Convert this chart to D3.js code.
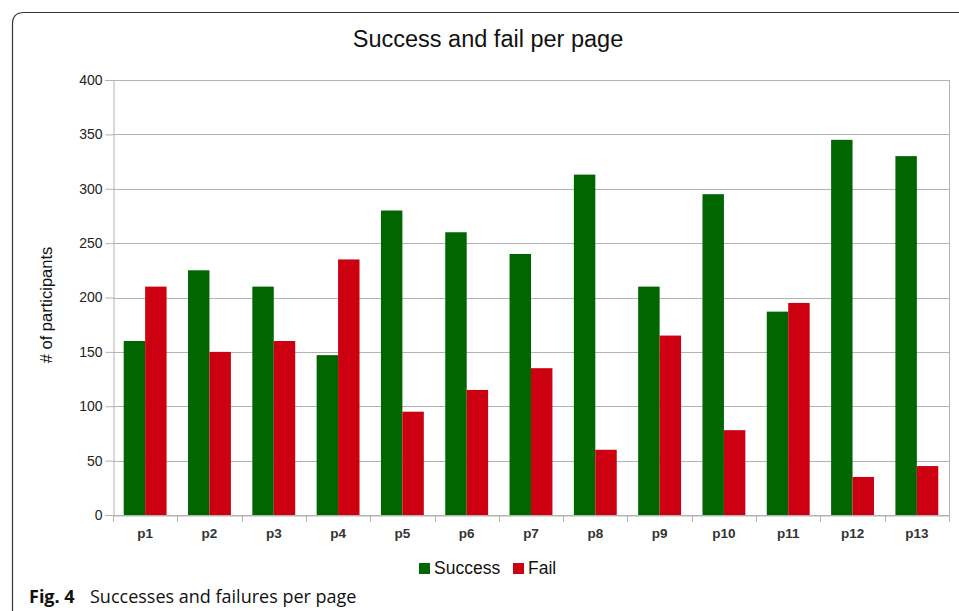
<!DOCTYPE html>
<html>
<head>
<meta charset="utf-8">
<script src="https://cdn.jsdelivr.net/npm/d3@7"></script>
<style>
  html, body { margin: 0; padding: 0; background: #fff; }
  svg { display: block; }
</style>
</head>
<body>
<svg id="chart" width="959" height="611"></svg>
<script>
const categories = ["p1","p2","p3","p4","p5","p6","p7","p8","p9","p10","p11","p12","p13"];
const successValues = [160, 225, 210, 147, 280, 260, 240, 313, 210, 295, 187, 345, 330];
const failValues = [210, 150, 160, 235, 95, 115, 135, 60, 165, 78, 195, 35, 45];
const seriesNames = ["Success", "Fail"];
const yTicks = [0, 50, 100, 150, 200, 250, 300, 350, 400];
const colors = ["#006600", "#cc0011"];

const svg = d3.select("#chart");
const m = {left: 113, right: 949, top: 80, bottom: 515};
const sans = "Liberation Sans, Arial, sans-serif";

// card border
svg.append("path")
  .attr("d", "M12.5,611 L12.5,24 Q12.5,12.5 24,12.5 L959,12.5")
  .attr("fill", "none").attr("stroke", "#333").attr("stroke-width", 1.2);

svg.append("text").attr("x", 488).attr("y", 47).attr("text-anchor", "middle")
  .attr("font-family", sans).attr("font-size", 23.5)
  .attr("fill", "#111").text("Success and fail per page");

const x = d3.scaleBand().domain(categories).range([m.left, m.right]).paddingInner(0).paddingOuter(0);
const x1 = d3.scaleBand().domain(seriesNames).range([0, x.bandwidth()]).paddingInner(0).paddingOuter(0.5);
const y = d3.scaleLinear().domain([0, 400]).range([m.bottom, m.top]);

// gridlines
svg.append("g").selectAll("line").data(yTicks).join("line")
  .attr("x1", m.left).attr("x2", m.right)
  .attr("y1", d => Math.round(y(d)) + 0.5).attr("y2", d => Math.round(y(d)) + 0.5)
  .attr("stroke", "#b3b3b3").attr("stroke-width", 1);
svg.append("line").attr("x1", m.right + 0.5).attr("x2", m.right + 0.5)
  .attr("y1", m.top).attr("y2", m.bottom).attr("stroke", "#b3b3b3");

// bars
const data = categories.map((c, i) => ({c, vals: [successValues[i], failValues[i]]}));
const groups = svg.append("g").selectAll("g").data(data).join("g")
  .attr("transform", d => `translate(${x(d.c)},0)`);
groups.selectAll("rect").data(d => d.vals.map((v, j) => ({v, s: seriesNames[j], j})))
  .join("rect")
  .attr("x", d => x1(d.s)).attr("width", x1.bandwidth())
  .attr("y", d => y(d.v)).attr("height", d => y(0) - y(d.v))
  .attr("fill", d => colors[d.j]);

// y axis
const yAxis = d3.axisLeft(y).tickValues(yTicks).tickSize(8).tickPadding(3);
const gy = svg.append("g").attr("transform", `translate(${m.left + 0.5},0)`).call(yAxis);
gy.select(".domain").attr("stroke", "#b3b3b3");
gy.selectAll(".tick line").attr("stroke", "#b3b3b3");
gy.selectAll(".tick text").attr("font-family", sans)
  .attr("font-size", 14).attr("fill", "#222");

// x axis
const gx = svg.append("g").attr("transform", `translate(0,${m.bottom + 0.5})`)
  .call(d3.axisBottom(x).tickSize(0).tickPadding(13));
gx.select(".domain").attr("stroke", "#b3b3b3");
gx.selectAll(".tick text").attr("font-family", sans)
  .attr("font-size", 13.5).attr("font-weight", "bold").attr("fill", "#333");
const bounds = categories.map(c => x(c)).concat([m.right]);
svg.append("g").selectAll("line").data(bounds).join("line")
  .attr("x1", d => Math.round(d) + 0.5).attr("x2", d => Math.round(d) + 0.5)
  .attr("y1", m.bottom).attr("y2", m.bottom + 7).attr("stroke", "#b3b3b3");

// y title
svg.append("text").attr("transform", "translate(52,305) rotate(-90)")
  .attr("text-anchor", "middle").attr("font-family", sans)
  .attr("font-size", 16.5).attr("fill", "#111").text("# of participants");

// legend
const legend = svg.append("g");
const legendItems = [{name: seriesNames[0], x: 419, color: colors[0]}, {name: seriesNames[1], x: 513, color: colors[1]}];
legendItems.forEach(it => {
  legend.append("rect").attr("x", it.x).attr("y", 563).attr("width", 11).attr("height", 11).attr("fill", it.color);
  legend.append("text").attr("x", it.x + 15).attr("y", 574)
    .attr("font-family", sans).attr("font-size", 17.5)
    .attr("fill", "#111").text(it.name);
});

// caption
const cap = svg.append("text").attr("x", 29).attr("y", 603)
  .attr("font-family", "Open Sans, sans-serif").attr("font-size", 18).attr("fill", "#111");
cap.append("tspan").attr("font-weight", "bold").text("Fig. 4");
cap.append("tspan").attr("x", 90).text("Successes and failures per page");
</script>
</body>
</html>
